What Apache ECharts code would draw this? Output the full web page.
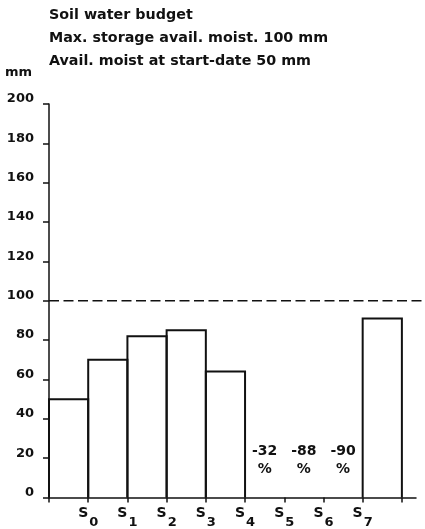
<!DOCTYPE html>
<html>
<head>
<meta charset="utf-8">
<title>Soil water budget</title>
<script src="https://cdn.jsdelivr.net/npm/echarts@6/dist/echarts.min.js"></script>
<style>
  html, body { margin: 0; padding: 0; background: #fff; }
  #chart { width: 425px; height: 529px; }
</style>
</head>
<body>
<div id="chart"></div>
<script>
// Soil water budget, available moisture (mm) per stage interval
const titleLines = [
  'Soil water budget',
  'Max. storage avail. moist. 100 mm',
  'Avail. moist at start-date 50 mm'
];
const stageLabels = ['S0', 'S1', 'S2', 'S3', 'S4', 'S5', 'S6', 'S7'];
// one value per interval between consecutive stage marks (first interval starts at the axis)
const moisture = [50, 70, 82, 85, 64, 0, 0, 0, 91];
// deficit percentages written inside the empty intervals
const deficitPct = [null, null, null, null, null, -32, -88, -90, null];
const maxStorage = 100;
const yTicks = [0, 20, 40, 60, 80, 100, 120, 140, 160, 180, 200];

const FONT = 'DejaVu Sans';
const chart = echarts.init(document.getElementById('chart'));

const xMax = 9.36;
const xFar = 9.6;

chart.setOption({
  animation: false,
  backgroundColor: '#fff',
  title: {
    text: titleLines.join('\n'),
    left: 49,
    top: 4,
    padding: 0,
    textStyle: {
      fontFamily: FONT, fontWeight: 'bold', fontSize: 14.3,
      lineHeight: 23, color: '#111'
    }
  },
  grid: { left: 49, right: 9, top: 104, bottom: 31 },
  xAxis: {
    type: 'value',
    min: 0, max: xMax,
    splitLine: { show: false },
    axisLine: { show: true, onZero: false, lineStyle: { color: '#111', width: 1.5 } },
    axisTick: {
      show: true, length: 5, inside: false,
      customValues: [0, 1, 2, 3, 4, 5, 6, 7, 8, 9],
      lineStyle: { color: '#111', width: 1.5 }
    },
    axisLabel: {
      customValues: [1, 2, 3, 4, 5, 6, 7, 8],
      margin: 9,
      verticalAlign: 'top',
      formatter: function (v) {
        const s = stageLabels[Math.round(v) - 1];
        return '{s|' + s.charAt(0) + '}{n|' + s.slice(1) + '}';
      },
      rich: {
        s: { fontFamily: FONT, fontWeight: 'bold', fontSize: 14, color: '#111',
             lineHeight: 14, verticalAlign: 'top', padding: [0, 1, 0, 0] },
        n: { fontFamily: FONT, fontWeight: 'bold', fontSize: 13, color: '#111',
             lineHeight: 32, verticalAlign: 'middle' }
      }
    }
  },
  yAxis: {
    type: 'value',
    min: 0, max: 200, interval: 20,
    name: 'mm',
    nameLocation: 'end',
    nameGap: 25,
    nameTextStyle: {
      fontFamily: FONT, fontWeight: 'bold', fontSize: 13, color: '#111',
      align: 'right', verticalAlign: 'bottom', padding: [0, 17, 0, 0]
    },
    splitLine: { show: false },
    axisLine: { show: true, lineStyle: { color: '#111', width: 1.5 } },
    axisTick: { show: true, length: 6, inside: false, lineStyle: { color: '#111', width: 1.5 } },
    axisLabel: {
      margin: 15,
      fontFamily: FONT, fontWeight: 'bold', fontSize: 13, color: '#111',
      verticalAlign: 'bottom', lineHeight: 10,
      formatter: function (v) { return yTicks.indexOf(v) >= 0 ? String(v) : ''; }
    }
  },
  series: [
    {
      // step bars, one outlined box per interval
      type: 'custom',
      data: moisture.map(function (v, i) { return [i, v]; }),
      renderItem: function (params, api) {
        const i = api.value(0);
        const v = api.value(1);
        if (!v) return null;
        const p0 = api.coord([i, 0]);
        const p1 = api.coord([i + 1, v]);
        return {
          type: 'polyline',
          shape: { points: [[p0[0], p0[1]], [p0[0], p1[1]], [p1[0], p1[1]], [p1[0], p0[1]]] },
          style: { stroke: '#111', lineWidth: 2, fill: null }
        };
      },
      z: 3
    },
    {
      // deficit percentages in the empty intervals
      type: 'custom',
      data: deficitPct.map(function (v, i) { return [i, v == null ? NaN : v]; }),
      renderItem: function (params, api) {
        const i = api.value(0);
        const v = api.value(1);
        if (isNaN(v)) return null;
        const p = api.coord([i + 0.5, 19]);
        return {
          type: 'text',
          x: p[0], y: p[1],
          style: {
            text: String(v) + '\n%',
            fontFamily: FONT, fontWeight: 'bold', fontSize: 14,
            lineHeight: 18, fill: '#111',
            align: 'center', verticalAlign: 'middle'
          }
        };
      }
    },
    {
      // maximum storage line
      type: 'custom',
      data: [[maxStorage]],
      renderItem: function (params, api) {
        const y = api.value(0);
        const a = api.coord([0, y]);
        const b = api.coord([xFar, y]);
        return {
          type: 'line',
          shape: { x1: a[0], y1: a[1], x2: b[0], y2: b[1] },
          style: { stroke: '#111', lineWidth: 1.5, lineDash: [10, 4.5] }
        };
      }
    }
  ]
});
</script>
</body>
</html>
